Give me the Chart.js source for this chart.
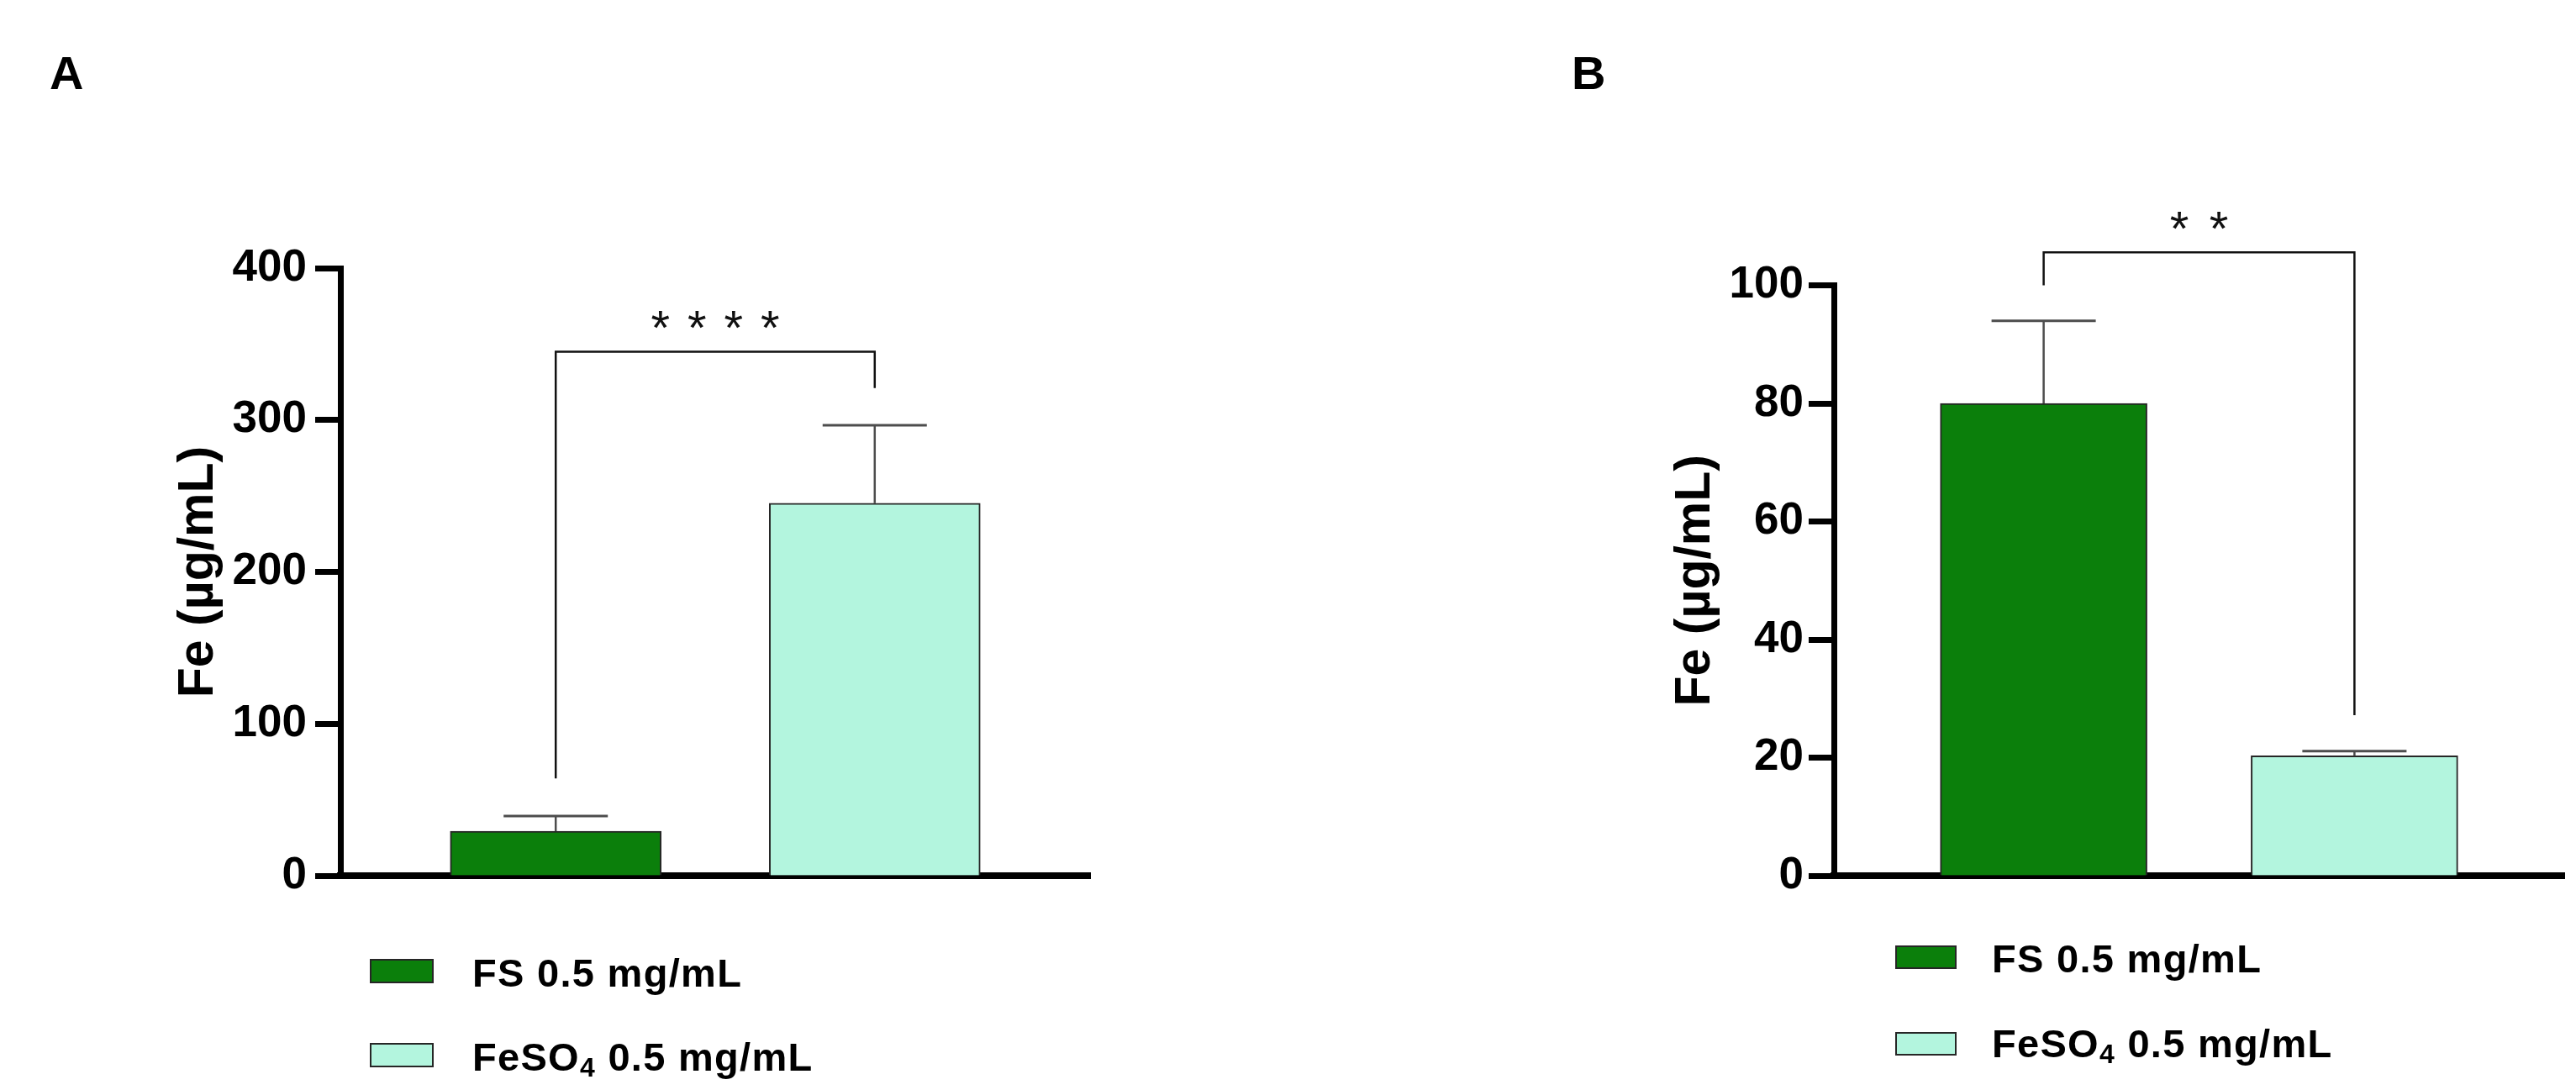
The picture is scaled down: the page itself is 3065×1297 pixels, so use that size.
<!DOCTYPE html>
<html>
<head>
<meta charset="utf-8">
<script src="https://cdn.jsdelivr.net/npm/chart.js@4/dist/chart.umd.min.js"></script>
<style>
  body { margin: 0; background: #fff; }
  #page { position: relative; width: 3065px; height: 1297px; overflow: hidden; font-family: 'Liberation Sans', Arial, sans-serif; }
  canvas { position: absolute; top: 0; }
  .panel { position: absolute; top: 59px; font-size: 56px; font-weight: bold; line-height: 1; }
  .box { position: absolute; box-sizing: border-box; border: 2px solid #262626; }
  .lab { position: absolute; font-size: 47px; font-weight: bold; line-height: 1; letter-spacing: 1.3px; white-space: nowrap; }
  .lab sub { font-size: 0.68em; vertical-align: -0.22em; line-height: 0; }
</style>
</head>
<body>
<div id="page">
  <canvas id="chartA" width="1532" height="1297" style="left:0"></canvas>
  <canvas id="chartB" width="1533" height="1297" style="left:1532px"></canvas>
  <div class="panel" style="left:59px">A</div>
  <div class="panel" style="left:1870px">B</div>
  <div id="legendA"></div>
  <div id="legendB"></div>
</div>
<script>
const FONT = "'Liberation Sans', Arial, sans-serif";

const categories = ['FS 0.5 mg/mL', 'FeSO4 0.5 mg/mL'];
const barColors = ['#0b7f0b', '#b3f5de'];

// panel A
const feMeanA = [29.3, 245.2];
const feSdA = [10, 51.4];
const ticksA = [0, 100, 200, 300, 400];
const bracketA = [64, 345, 321];      // left leg end, bracket, right leg end
const starsA = '****';

// panel B
const feMeanB = [80, 20.3];
const feSdB = [14, 0.8];
const ticksB = [0, 20, 40, 60, 80, 100];
const bracketB = [100, 105.6, 27.2];
const starsB = '**';

// error bars, bracket and stars, drawn through the chart scales
const sigBars = {
    id: 'sigBars',
    afterDatasetsDraw(chart, args, o) {
        const {ctx, scales: {x, y}} = chart;
        const pts = chart.data.datasets[0].data;
        ctx.save();
        ctx.strokeStyle = '#4d4d4d';
        pts.forEach((p, i) => {
            const px = x.getPixelForValue(p.x);
            const y0 = y.getPixelForValue(p.y);
            const y1 = y.getPixelForValue(p.y + o.sds[i]);
            ctx.lineWidth = 2.5;
            ctx.beginPath(); ctx.moveTo(px, y0); ctx.lineTo(px, y1); ctx.stroke();
            ctx.lineWidth = 3;
            ctx.beginPath(); ctx.moveTo(px - o.capHalf, y1); ctx.lineTo(px + o.capHalf, y1); ctx.stroke();
        });

        const xa = x.getPixelForValue(pts[0].x), xb = x.getPixelForValue(pts[1].x);
        const [l, top, r] = o.bracket;
        const yt = y.getPixelForValue(top);
        ctx.strokeStyle = '#111';
        ctx.lineWidth = 2.5;
        ctx.beginPath();
        ctx.moveTo(xa, y.getPixelForValue(l));
        ctx.lineTo(xa, yt);
        ctx.lineTo(xb, yt);
        ctx.lineTo(xb, y.getPixelForValue(r));
        ctx.stroke();

        ctx.fillStyle = '#111';
        ctx.font = '58px ' + FONT;
        ctx.textAlign = 'center';
        ctx.textBaseline = 'alphabetic';
        const n = o.stars.length, cx = (xa + xb) / 2;
        for (let k = 0; k < n; k++) {
            ctx.fillText('*', cx + (k - (n - 1) / 2) * o.starGap, yt - 8);
        }
        ctx.restore();
    }
};

function makeChart(id, means, sds, ticks, bracket, stars, lay) {
    const ctx = document.getElementById(id).getContext('2d');
    return new Chart(ctx, {
        type: 'bar',
        data: {
            datasets: [{
                data: means.map((v, i) => ({x: i + 1, y: v})),
                backgroundColor: barColors,
                borderColor: '#262626',
                borderWidth: 2,
                barThickness: lay.barWidth
            }]
        },
        options: {
            responsive: false,
            animation: false,
            layout: {padding: {left: 0, top: lay.top, right: lay.right, bottom: lay.bottom}},
            plugins: {
                legend: {display: false},
                tooltip: {enabled: false},
                sigBars: {sds: sds, bracket: bracket, stars: stars, capHalf: 62, starGap: lay.starGap}
            },
            scales: {
                x: {
                    type: 'linear', min: 0.325, max: 2.675, z: 1, offset: false,
                    ticks: {display: false},
                    grid: {display: false, offset: false},
                    border: {color: '#000', width: 8},
                    afterFit: s => { s.height = 0; }
                },
                y: {
                    min: ticks[0], max: ticks[ticks.length - 1],
                    ticks: {
                        stepSize: ticks[1] - ticks[0], color: '#000', padding: lay.tickPad,
                        font: {family: FONT, size: 53, weight: 'bold'}
                    },
                    grid: {drawOnChartArea: false, drawTicks: true, tickLength: 30, tickWidth: 7, tickColor: '#000'},
                    border: {color: '#000', width: 7},
                    title: {
                        display: true, text: 'Fe (µg/mL)', color: '#000',
                        font: {family: FONT, size: 59, weight: 'bold'},
                        padding: {top: lay.titlePad, bottom: 0}
                    },
                    afterFit: s => { s.width = lay.axisWidth; }
                }
            }
        },
        plugins: [sigBars]
    });
}

function makeLegend(id, lay) {
    let html = '';
    categories.forEach((name, i) => {
        const label = name.replace('SO4', 'SO<sub>4</sub>');
        html += '<div class="box" style="left:' + lay.boxLeft + 'px;top:' + lay.boxTops[i] + 'px;width:' + lay.boxW +
            'px;height:' + lay.boxH + 'px;background:' + barColors[i] + '"></div>';
        html += '<div class="lab" style="left:' + lay.textLeft + 'px;top:' + lay.textTops[i] + 'px">' + label + '</div>';
    });
    document.getElementById(id).innerHTML = html;
}

makeChart('chartA', feMeanA, feSdA, ticksA, bracketA, starsA,
    {top: 319, bottom: 255, right: 235, axisWidth: 405, titlePad: 201.6, tickPad: 10, barWidth: 251, starGap: 43.5});
makeChart('chartB', feMeanB, feSdB, ticksB, bracketB, starsB,
    {top: 339.5, bottom: 255, right: 14, axisWidth: 650, titlePad: 450.6, tickPad: 6, barWidth: 246, starGap: 47});

makeLegend('legendA', {boxLeft: 440, boxTops: [1141, 1241], boxW: 76, boxH: 29, textLeft: 562, textTops: [1134, 1234]});
makeLegend('legendB', {boxLeft: 2255, boxTops: [1125, 1228], boxW: 73, boxH: 28, textLeft: 2370, textTops: [1117, 1218]});
</script>
</body>
</html>
